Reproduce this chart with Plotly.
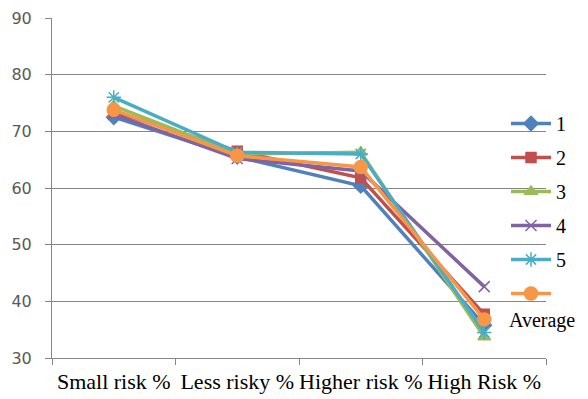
import plotly.graph_objects as go

# Risk categories on the x axis
categories = ["Small risk %", "Less risky %", "Higher risk %", "High Risk %"]

# Percentages per group
s1 = [72.5, 65.5, 60.4, 35.8]
s2 = [73.5, 66.5, 61.8, 37.7]
s3 = [74.5, 66.0, 66.3, 33.7]
s4 = [73.0, 65.2, 63.0, 42.6]
s5 = [76.0, 66.3, 66.0, 34.5]
avg = [73.8, 65.7, 63.7, 36.8]

series = [
    ("1", s1, "#4F81BD", "diamond", 11),
    ("2", s2, "#C0504D", "square", 10),
    ("3", s3, "#9BBB59", "triangle-up", 11),
    ("4", s4, "#8064A2", "x-thin", 11),
    ("5", s5, "#4BACC6", "asterisk", 12),
    (" ", avg, "#F79646", "circle", 13),
]

# plot area in pixels
L, R, T, B = 52, 42, 18, 41
W, H = 588, 399
PW, PH = W - L - R, H - T - B

fig = go.Figure()
for i, (name, vals, color, symbol, size) in enumerate(series):
    fig.add_trace(go.Scatter(
        x=categories, y=vals, name=name, mode="lines+markers",
        legendgroup=f"g{i}",
        line=dict(color=color, width=3.5),
        marker=dict(symbol=symbol, size=size, color=color,
                    line=dict(color=color, width=1.5)),
    ))

fig.update_layout(
    width=W, height=H,
    margin=dict(l=L, r=R, t=T, b=B, autoexpand=False),
    paper_bgcolor="white", plot_bgcolor="white",
    showlegend=True,
    legend=dict(
        xref="paper", yref="paper",
        x=(506 - L) / PW, y=(H - B - 104) / PH, xanchor="left", yanchor="top",
        font=dict(family="Liberation Serif", size=20, color="black"),
        tracegroupgap=5, itemwidth=40, bgcolor="rgba(0,0,0,0)",
        maxheight=399,
    ),
    annotations=[dict(
        text="Average", xref="paper", yref="paper",
        x=(507 - L) / PW, y=(H - B - 320) / PH, xanchor="left", yanchor="middle",
        showarrow=False,
        font=dict(family="Liberation Serif", size=20, color="black"),
    )],
)

fig.update_xaxes(
    type="category", range=[-0.5, 3.5],
    showline=True, linecolor="#868686", linewidth=1,
    ticks="outside", tickson="boundaries", ticklen=6, tickcolor="#868686",
    showgrid=False, tickangle=0, ticklabelstandoff=4,
    tickfont=dict(family="Liberation Serif", size=22, color="black"),
)
fig.update_yaxes(
    range=[30, 90], dtick=10,
    showline=True, linecolor="#868686", linewidth=1,
    ticks="outside", ticklen=6, tickcolor="#868686",
    showgrid=True, gridcolor="#868686", gridwidth=1,
    zeroline=False,
    ticklabelstandoff=10,
    tickfont=dict(family="DejaVu Sans", size=16, color="#595959"),
)

fig.write_html("out.html")
